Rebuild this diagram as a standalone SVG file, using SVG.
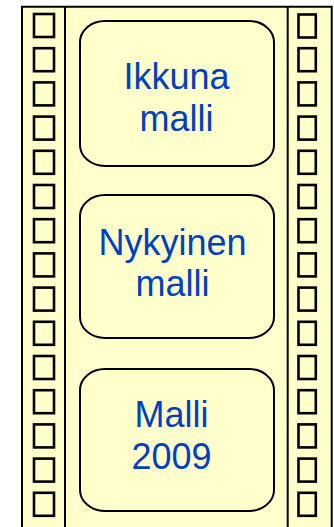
<svg xmlns="http://www.w3.org/2000/svg" xmlns:xlink="http://www.w3.org/1999/xlink" width="334" height="527" viewBox="0 0 334 527">
  <style>
    .strip { fill: #FFFFCC; stroke: none; }
    .edge { fill: none; stroke: #000000; stroke-width: 2; }
    .hole { fill: #FFFFCC; stroke: #000000; stroke-width: 2.6; }
    .frame { fill: #FFFFCC; stroke: #000000; stroke-width: 2; }
    .label { font-family: "Liberation Sans", Arial, sans-serif; font-size: 36px; fill: #0040C0; text-anchor: middle; }
  </style>
  <defs>
    <rect id="holeL" class="hole" x="34" y="0" width="20" height="23"/>
    <rect id="holeR" class="hole" x="298.5" y="0" width="17.3" height="23"/>
  </defs>
  <rect width="334" height="527" fill="#FFFFFF"/>
  <g id="film-strip">
    <rect class="strip" x="22" y="6.7" width="310" height="521"/>
    <path class="edge" d="M22,527 V6.7 H331.7 V527 M65,6.7 V527 M287.7,6.7 V527"/>
    <g id="holes-left">
      <use xlink:href="#holeL" y="14"/>
      <use xlink:href="#holeL" y="48.2"/>
      <use xlink:href="#holeL" y="82.4"/>
      <use xlink:href="#holeL" y="116.6"/>
      <use xlink:href="#holeL" y="150.8"/>
      <use xlink:href="#holeL" y="185"/>
      <use xlink:href="#holeL" y="219.2"/>
      <use xlink:href="#holeL" y="253.4"/>
      <use xlink:href="#holeL" y="287.6"/>
      <use xlink:href="#holeL" y="321.8"/>
      <use xlink:href="#holeL" y="356"/>
      <use xlink:href="#holeL" y="390.2"/>
      <use xlink:href="#holeL" y="424.4"/>
      <use xlink:href="#holeL" y="458.6"/>
      <use xlink:href="#holeL" y="492.8"/>
    </g>
    <g id="holes-right">
      <use xlink:href="#holeR" y="14.5"/>
      <use xlink:href="#holeR" y="48.2"/>
      <use xlink:href="#holeR" y="82.4"/>
      <use xlink:href="#holeR" y="116.6"/>
      <use xlink:href="#holeR" y="150.8"/>
      <use xlink:href="#holeR" y="185"/>
      <use xlink:href="#holeR" y="219.2"/>
      <use xlink:href="#holeR" y="253.4"/>
      <use xlink:href="#holeR" y="287.6"/>
      <use xlink:href="#holeR" y="321.8"/>
      <use xlink:href="#holeR" y="356"/>
      <use xlink:href="#holeR" y="390.2"/>
      <use xlink:href="#holeR" y="424.4"/>
      <use xlink:href="#holeR" y="458.6"/>
      <use xlink:href="#holeR" y="492.8"/>
    </g>
  </g>
  <g id="frame-ikkuna">
    <rect class="frame" x="80" y="21" width="194" height="145" rx="25" ry="21"/>
    <text class="label" x="176.5" y="89">Ikkuna</text>
    <text class="label" x="176.5" y="131">malli</text>
  </g>
  <g id="frame-nykyinen">
    <rect class="frame" x="80" y="195" width="194" height="143" rx="25" ry="21"/>
    <text class="label" x="172.5" y="255">Nykyinen</text>
    <text class="label" x="172.5" y="296">malli</text>
  </g>
  <g id="frame-2009">
    <rect class="frame" x="80" y="369" width="194" height="142" rx="25" ry="21"/>
    <text class="label" x="171.5" y="427">Malli</text>
    <text class="label" x="171.5" y="469">2009</text>
  </g>
  <g id="connectors"/>
</svg>
